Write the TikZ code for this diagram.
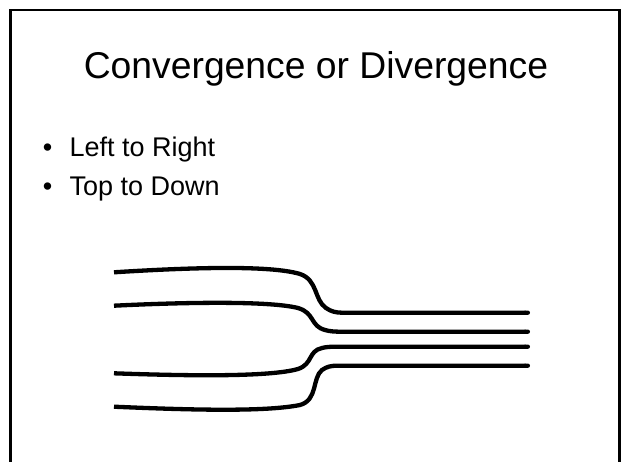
\documentclass[tikz,border=0pt]{standalone}
\usepackage{fontspec}
\setmainfont{Liberation Sans}
\usetikzlibrary{arrows.meta}
\begin{document}
\begin{tikzpicture}[x=1pt,y=-1pt,
  frame/.style={line width=2.7pt,black},
  strand/.style={line width=4.3pt,black,-{Round Cap[]}},
  titletext/.style={anchor=base,inner sep=0pt,font=\fontsize{37.3}{40}\selectfont},
  bullettext/.style={anchor=base west,inner sep=0pt,font=\fontsize{27}{30}\selectfont},
  bulletmark/.style={anchor=base,inner sep=0pt,font=\fontsize{27}{30}\selectfont}]
\useasboundingbox (0,0) rectangle (621,462);
\fill[white] (0,0) rectangle (621,462);
% slide frame (open at the bottom)
\draw[frame] (10.6,462) -- (10.6,10) -- (619.6,10) -- (619.6,462);
% texts
\node[titletext] (title) at (316,78.3) {Convergence or Divergence};
\node[bulletmark] (b1) at (47.5,157) {•};
\node[bullettext] (t1) at (69.3,157) {Left to Right};
\node[bulletmark] (b2) at (47.5,196) {•};
\node[bullettext] (t2) at (69.3,196) {Top to Down};
% strands
\draw[strand] (114,272.3) .. controls (190,267.5) and (270,265) .. (300,274)
  .. controls (318,280) and (314,300) .. (326,308)
  .. controls (331,311.5) and (336,312.7) .. (342,312.7) -- (530,312.7);
\draw[strand] (114,305.7) .. controls (190,302) and (270,301) .. (298,308)
  .. controls (315,313) and (310,326) .. (325,330)
  .. controls (330,331.5) and (335,331.7) .. (342,331.7) -- (530,331.7);
\draw[strand] (114,373.3) .. controls (190,376) and (270,377) .. (298,369)
  .. controls (313,364) and (308,351) .. (322,348)
  .. controls (326,347) and (330,346.7) .. (336,346.7) -- (530,346.7);
\draw[strand] (114,406.7) .. controls (190,410) and (265,412) .. (300,405)
  .. controls (318,400) and (312,378) .. (322,370)
  .. controls (327,366.5) and (331,365.7) .. (338,365.7) -- (530,365.7);
\end{tikzpicture}
\end{document}
